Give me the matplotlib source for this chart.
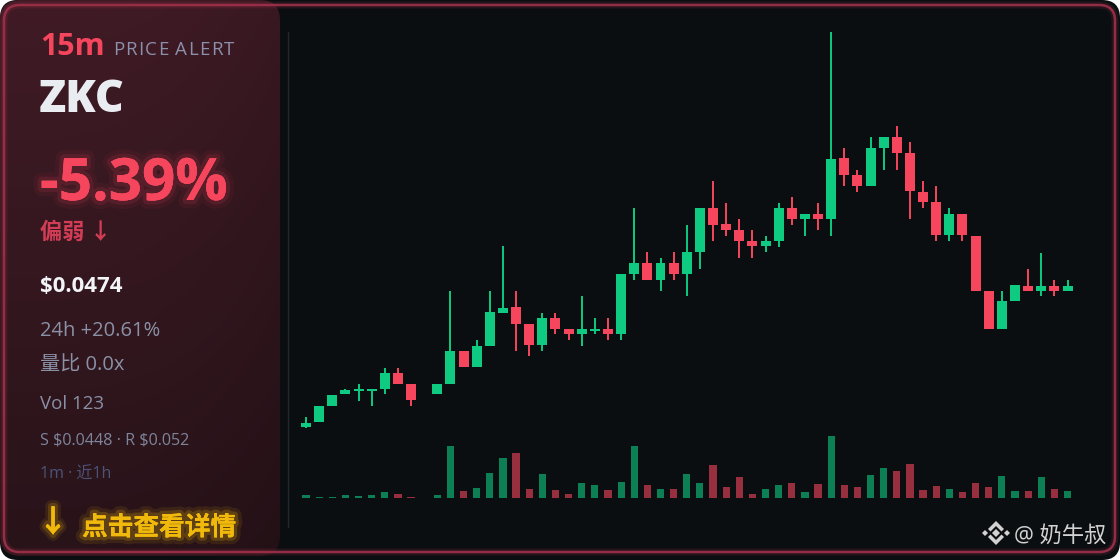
"""15m price alert card for ZKC: info panel on the left, candles + volume on the right."""
import numpy as np
import matplotlib
matplotlib.use("Agg")
import matplotlib.pyplot as plt
from matplotlib import patheffects as pe
from matplotlib.font_manager import FontProperties
from matplotlib.patches import FancyBboxPatch, Polygon
from matplotlib.textpath import TextToPath

# --- data (59 x 1m candles, one empty slot) ---
opens = [0.04174, 0.04194, 0.04260, 0.04304, 0.04318, 0.04318, 0.04326, 0.04388, 0.04344, np.nan,
         0.04304, 0.04348, 0.04478, 0.04414, 0.04500, 0.04632, 0.04652, 0.04588, 0.04502, 0.04610,
         0.04566, 0.04546, 0.04558, 0.04566, 0.04546, 0.04788, 0.04830, 0.04764, 0.04830, 0.04788,
         0.04876, 0.05050, 0.04984, 0.04962, 0.04918, 0.04898, 0.04920, 0.05050, 0.05008, 0.05028,
         0.05008, 0.05248, 0.05182, 0.05140, 0.05292, 0.05336, 0.05270, 0.05116, 0.05072, 0.04942,
         0.05028, 0.04940, 0.04720, 0.04568, 0.04676, 0.04740, 0.04720, 0.04740, 0.04720]
highs = [0.04214, 0.04258, 0.04302, 0.04326, 0.04346, 0.04324, 0.04412, 0.04412, 0.04344, np.nan,
         0.04346, 0.04720, 0.04478, 0.04522, 0.04720, 0.04898, 0.04720, 0.04588, 0.04632, 0.04632,
         0.04566, 0.04698, 0.04610, 0.04610, 0.04786, 0.05050, 0.04874, 0.04852, 0.04874, 0.04984,
         0.05050, 0.05160, 0.05072, 0.05006, 0.04962, 0.04940, 0.05072, 0.05094, 0.05028, 0.05072,
         0.05754, 0.05292, 0.05204, 0.05336, 0.05336, 0.05380, 0.05314, 0.05160, 0.05138, 0.05050,
         0.05028, 0.04940, 0.04720, 0.04720, 0.04740, 0.04808, 0.04872, 0.04764, 0.04764]
lows = [0.04172, 0.04194, 0.04260, 0.04304, 0.04280, 0.04260, 0.04304, 0.04348, 0.04260, np.nan,
        0.04304, 0.04348, 0.04414, 0.04414, 0.04500, 0.04632, 0.04480, 0.04456, 0.04480, 0.04546,
        0.04522, 0.04500, 0.04546, 0.04522, 0.04522, 0.04764, 0.04764, 0.04720, 0.04764, 0.04700,
        0.04808, 0.04920, 0.04940, 0.04852, 0.04852, 0.04876, 0.04896, 0.04984, 0.04940, 0.04964,
        0.04940, 0.05140, 0.05116, 0.05140, 0.05204, 0.05204, 0.05008, 0.05052, 0.04920, 0.04920,
        0.04920, 0.04720, 0.04568, 0.04568, 0.04676, 0.04720, 0.04700, 0.04700, 0.04720]
closes = [0.04192, 0.04258, 0.04302, 0.04322, 0.04324, 0.04324, 0.04388, 0.04348, 0.04282, np.nan,
          0.04346, 0.04478, 0.04414, 0.04500, 0.04632, 0.04652, 0.04588, 0.04502, 0.04610, 0.04568,
          0.04546, 0.04566, 0.04566, 0.04546, 0.04786, 0.04830, 0.04764, 0.04830, 0.04788, 0.04874,
          0.05050, 0.04984, 0.04964, 0.04920, 0.04898, 0.04918, 0.05050, 0.05008, 0.05028, 0.05008,
          0.05248, 0.05184, 0.05140, 0.05292, 0.05336, 0.05272, 0.05118, 0.05074, 0.04942, 0.05028,
          0.04942, 0.04720, 0.04568, 0.04676, 0.04740, 0.04720, 0.04740, 0.04720, 0.04740]
volumes = [27, 7, 7, 30, 13, 30, 53, 40, 7, 0,
           23, 520, 67, 100, 247, 400, 450, 90, 237, 73,
           40, 150, 127, 77, 160, 513, 123, 87, 87, 237,
           147, 330, 110, 207, 40, 90, 127, 143, 53, 140,
           617, 123, 103, 223, 293, 263, 340, 80, 117, 87,
           57, 147, 107, 220, 67, 67, 203, 87, 70]

symbol = "ZKC"
interval = "15m"
change_pct = "-5.39%"
bias = "偏弱 ↓"
last_price = "$0.0474"
info_lines = ["24h +20.61%", "量比 0.0x", "Vol 123"]
levels = "S $0.0448 · R $0.052"
window = "1m · 近1h"
cta = "点击查看详情"
handle = "@ 奶牛叔"

UP = "#0ecb81"
DOWN = "#f6465d"
BG = "#0b0e11"
GOLD = "#f0b90b"
W, H = 1120, 560

FONTS = ["Open Sans", "Noto Sans CJK SC", "DejaVu Sans"]
CJK = ["Noto Sans CJK SC", "DejaVu Sans"]


def _glow(color, widths=(9, 5), alphas=(0.10, 0.18)):
    fx = [pe.withStroke(linewidth=w, foreground=color, alpha=a) for w, a in zip(widths, alphas)]
    return fx + [pe.Normal()]


def _spaced(bg, x, y, s, size, color, gap):
    # letter-spaced label, one glyph at a time
    prop = FontProperties(family="Open Sans", size=size)
    t2p = TextToPath()
    for ch in s:
        bg.text(x, y, ch, fontsize=size, color=color, family=FONTS,
                va="baseline", ha="left", zorder=5)
        w, _, _ = t2p.get_text_width_height_descent(ch, prop, ismath=False)
        x += w * 100 / 72 + gap


def _background(fig):
    bg = fig.add_axes([0, 0, 1, 1], zorder=0)
    bg.set_xlim(0, W)
    bg.set_ylim(H, 0)
    bg.axis("off")

    card = FancyBboxPatch((0, 0), W, H, boxstyle="round,pad=0,rounding_size=18",
                          fc=BG, ec="none")
    bg.add_patch(card)

    # left panel: maroon vertical gradient clipped to a rounded box
    panel = FancyBboxPatch((0, 0), 280, 556, boxstyle="round,pad=0,rounding_size=20",
                           fc="none", ec="none")
    bg.add_patch(panel)
    top = np.array([64, 27, 37]) / 255
    bot = np.array([40, 19, 25]) / 255
    t = np.linspace(0, 1, 200)[:, None, None]
    s = np.linspace(0, 1, 100)[None, :, None]
    grad = top * (1 - t) + bot * t
    grad = grad * (1 - 0.12 * s ** 3)
    im = bg.imshow(grad, extent=(0, 280, 556, 0), origin="upper", aspect="auto",
                   interpolation="bilinear", zorder=1)
    im.set_clip_path(panel)

    # card border with a faint glow
    for lw, a in ((5, 0.18), (1.8, 0.9)):
        bg.add_patch(FancyBboxPatch((4, 5), W - 9, H - 13,
                                    boxstyle="round,pad=0,rounding_size=16",
                                    fc="none", ec="#a0304a", lw=lw, alpha=a, zorder=3))

    # left edge of the chart area
    bg.plot([288, 288], [32, 527], color="#22262d", lw=1.0, zorder=2)
    return bg


def _panel_text(bg):
    kw = dict(va="baseline", ha="left", zorder=5, parse_math=False)
    bg.text(40, 55, interval, fontsize=22, weight="bold", color=DOWN, family=FONTS, **kw)
    _spaced(bg, 113, 55, "PRICE ALERT", 13.5, "#8c90ab", 1.2)
    bg.text(39, 112, symbol, fontsize=32, weight="heavy", color="#e9edf2", family=FONTS, **kw)
    bg.text(40, 200, change_pct, fontsize=42, weight="bold", color=DOWN, family=FONTS,
            path_effects=_glow(DOWN, (12, 6), (0.06, 0.12)), **kw)
    bg.text(40, 239, bias, fontsize=16, weight="bold", color="#d23c55", family=CJK, **kw)
    bg.text(40, 292, last_price, fontsize=16, weight="bold", color="#f2f4f7", family=FONTS, **kw)
    bg.text(40, 336, info_lines[0], fontsize=14.5, color="#8a90a6", family=FONTS, **kw)
    bg.text(40, 371, info_lines[1], fontsize=14.5, color="#8a90a6", family=FONTS, **kw)
    bg.text(40, 409, info_lines[2], fontsize=13.5, color="#8a90a6", family=FONTS, **kw)
    bg.text(40, 444, levels, fontsize=11.6, color="#7e849b", family=FONTS, **kw)
    bg.text(40, 479, window, fontsize=11.5, color="#4c5379", family=FONTS, **kw)
    bg.text(53, 523, "↓", fontsize=22, weight="bold", color=GOLD, family=CJK,
            ha="center", va="center", zorder=5, path_effects=_glow(GOLD))
    bg.text(82, 535, cta, fontsize=18.5, weight="bold", color=GOLD, family=CJK,
            path_effects=_glow(GOLD, (10, 5), (0.10, 0.2)), **kw)

    # watermark: exchange logo + handle
    grey = "#d2d2d2"
    cx, cy = 996, 533
    shapes = [
        [(cx, cy - 4), (cx + 4, cy), (cx, cy + 4), (cx - 4, cy)],
        [(cx - 11, cy - 3), (cx - 8, cy), (cx - 11, cy + 3), (cx - 14, cy)],
        [(cx + 11, cy - 3), (cx + 14, cy), (cx + 11, cy + 3), (cx + 8, cy)],
        [(cx, cy - 12), (cx + 8, cy - 4), (cx + 5.5, cy - 1.5), (cx, cy - 7),
         (cx - 5.5, cy - 1.5), (cx - 8, cy - 4)],
        [(cx, cy + 12), (cx + 8, cy + 4), (cx + 5.5, cy + 1.5), (cx, cy + 7),
         (cx - 5.5, cy + 1.5), (cx - 8, cy + 4)],
    ]
    for pts in shapes:
        bg.add_patch(Polygon(pts, closed=True, fc=grey, ec="none", zorder=5))
    bg.text(1014, 542, handle, fontsize=16, color=grey, family=FONTS, **kw)


def _candles(fig):
    o = np.array(opens)
    h = np.array(highs)
    lo = np.array(lows)
    c = np.array(closes)
    v = np.array(volumes, dtype=float)
    idx = np.arange(len(o))
    ok = ~np.isnan(o)
    up = c >= o
    colors = np.where(up, UP, DOWN)

    ax = fig.add_axes([288 / W, 60 / H, 800 / W, 480 / H], zorder=1)
    ax.patch.set_alpha(0)
    ax.set_xlim(-1.371, 59.56)
    ax.set_ylim(0.03882, 0.05802)
    ax.axis("off")
    ax.vlines(idx[ok], lo[ok], h[ok], colors=colors[ok], lw=1.4, zorder=2)
    ax.bar(idx[ok], np.abs(c - o)[ok], bottom=np.minimum(o, c)[ok], width=0.76,
           color=colors[ok], lw=0, zorder=3)

    axv = fig.add_axes([288 / W, 62.5 / H, 800 / W, 62 / H], zorder=1)
    axv.patch.set_alpha(0)
    axv.set_xlim(-1.371, 59.56)
    axv.set_ylim(0, 620)
    axv.axis("off")
    axv.bar(idx, v, width=0.55, color=colors, alpha=0.6, lw=0)


def main():
    fig = plt.figure(figsize=(W / 100, H / 100), dpi=100, facecolor="white")
    bg = _background(fig)
    _panel_text(bg)
    _candles(fig)
    fig.savefig("out.png", dpi=100, facecolor="white")


if __name__ == "__main__":
    main()
